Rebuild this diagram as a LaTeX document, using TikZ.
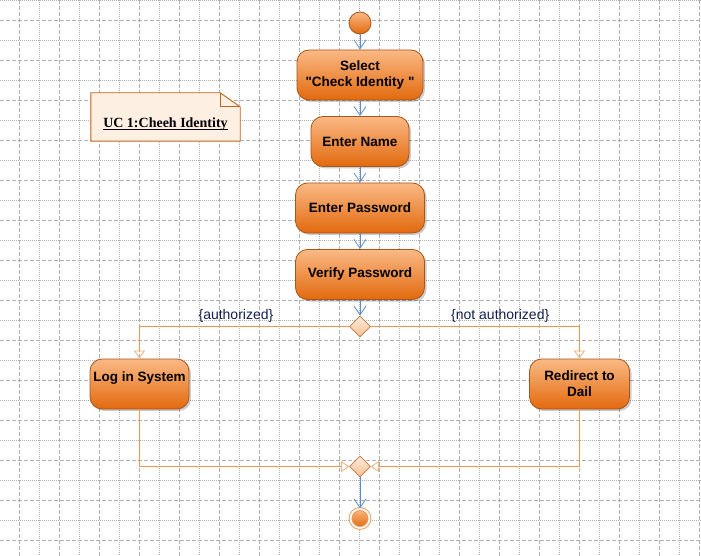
\documentclass[tikz,border=0pt]{standalone}
\usepackage{fontspec}
\setmainfont{Liberation Sans}[Ligatures=TeXOff]
\newfontfamily\noteFont{Liberation Serif}
\usepackage{tikz}
\usetikzlibrary{arrows.meta, positioning, shapes.geometric, shadows}
\definecolor{boxTop}{HTML}{FAB985}
\definecolor{boxBot}{HTML}{E2690D}
\definecolor{boxEdge}{HTML}{A9561A}
\definecolor{flowBlue}{HTML}{5C8CCC}
\definecolor{flowOrange}{HTML}{F0964F}
\definecolor{tipOrange}{HTML}{F7B07F}
\definecolor{decTop}{HTML}{FDEBDD}
\definecolor{decBot}{HTML}{F8BF8F}
\definecolor{decEdge}{HTML}{C07A45}
\definecolor{noteFill}{HTML}{FDEFE2}
\definecolor{noteEdge}{HTML}{C0651E}
\definecolor{gridGray}{HTML}{B0B0B0}
\definecolor{lblNavy}{HTML}{141E50}
\newcommand{\thickUline}[1]{\setbox0\hbox{#1}\rlap{\rule[-3.2pt]{\wd0}{1.6pt}}\box0}
\tikzstyle{actNode} = [rectangle, rounded corners=12pt, minimum height=50pt, align=center, text centered, draw=boxEdge, line width=0.8pt, top color=boxTop, bottom color=boxBot, font=\fontsize{13.5}{16}\selectfont\bfseries, drop shadow={shadow xshift=2pt, shadow yshift=-2pt, fill=black, opacity=0.2}]
\tikzstyle{startNode} = [circle, minimum size=22pt, inner sep=0pt, draw=boxEdge, line width=0.8pt, top color=boxTop, bottom color=boxBot]
\tikzstyle{endNode} = [circle, minimum size=19pt, inner sep=0pt, draw=flowOrange, line width=0.9pt, double=white, double distance=1.8pt, top color=boxTop, bottom color=boxBot]
\tikzstyle{decNode} = [diamond, aspect=1, minimum size=21pt, inner sep=0pt, draw=decEdge, line width=0.7pt, top color=decTop, bottom color=decBot]
\tikzstyle{noteNode} = [rectangle, minimum width=149pt, minimum height=48pt, inner sep=0pt]
\tikzstyle{noteShape} = [draw=noteEdge, fill=noteFill, line width=0.9pt, line join=miter]
\tikzstyle{noteTxt} = [font=\noteFont\fontsize{14}{16}\selectfont\bfseries]
\tikzstyle{lblText} = [text=lblNavy, font=\fontsize{14}{16}\selectfont]
\tikzstyle{arrowB} = [line width=0.8pt, draw=flowBlue, -{Straight Barb[length=9pt,width=12pt]}]
\tikzstyle{arrowO} = [line width=0.8pt, draw=flowOrange, -{Triangle[open,length=8pt,width=11pt,color=tipOrange]}]
\tikzstyle{gridDash} = [draw=gridGray, line width=0.9pt, dash pattern=on 4pt off 2pt]
\tikzstyle{gridDot} = [draw=gridGray, line width=0.9pt, dash pattern=on 1pt off 1pt]

\begin{document}
\begin{tikzpicture}[x=1pt, y=1pt, node distance=66.5pt]
    \useasboundingbox[fill=white] (0,0) rectangle (701,-556);
    % background grid
    \foreach \gx in {19,59,...,699} \draw [gridDash] (\gx,0) -- (\gx,-556);
    \foreach \gx in {39,79,...,679} \draw [gridDot] (\gx,0) -- (\gx,-556);
    \foreach \gy in {20,60,...,540} \draw [gridDash] (0,-\gy) -- (701,-\gy);
    \foreach \gy in {0,40,...,520} \draw [gridDot] (0,-\gy) -- (701,-\gy);

    \node (start) [startNode] at (360,-23) {};
    \node (select) [actNode, below of=start, yshift=14.5pt, minimum width=126pt] {Select\\"Check Identity "};
    \node (name) [actNode, below of=select, minimum width=98pt] {Enter Name};
    \node (pass) [actNode, below of=name, minimum width=129pt] {Enter Password};
    \node (verify) [actNode, below of=pass, minimum width=129pt] {Verify Password};
    \node (dec) [decNode, below of=verify, yshift=14.5pt] {};
    \node (login) [actNode, below of=dec, xshift=-220.5pt, yshift=9pt, minimum width=98pt] {Log in System\\[-6pt]\strut};
    \node (redirect) [actNode, below of=dec, xshift=219.5pt, yshift=9pt, minimum width=100pt] {Redirect to\\Dail};
    \node (merge) [decNode, below of=dec, yshift=-73.5pt] {};
    \node (end) [endNode, below of=merge, yshift=14.5pt] {};

    \node (note) [noteNode] at (165.5,-117) {};
    \filldraw [noteShape] (note.south west) -- (note.north west) -- ([xshift=-20pt]note.north east) -- ([yshift=-14pt]note.north east) -- (note.south east) -- cycle;
    \draw [noteShape, fill=none] ([xshift=-20pt]note.north east) |- ([yshift=-14pt]note.north east);
    \node (noteText) [noteTxt] at ([yshift=-7pt]note.center) {\thickUline{UC 1:Cheeh Identity}};

    \draw [arrowB] (start) -- (select);
    \draw [arrowB] (select) -- (name);
    \draw [arrowB] (name) -- (pass);
    \draw [arrowB] (pass) -- (verify);
    \draw [arrowB] (verify) -- (dec);

    \draw [arrowO] (dec) -| node[lblText, pos=0.27, above] {\{authorized\}} (login);
    \draw [arrowO] (dec) -| node[lblText, pos=0.31, above] {\{not authorized\}} (redirect);
    %\draw [arrowO] (login) -- (merge);
    \draw [arrowO] (login) |- (merge);
    \draw [arrowO] (redirect) |- (merge);

    \draw [arrowB] (merge) -- (end);
\end{tikzpicture}
\end{document}
